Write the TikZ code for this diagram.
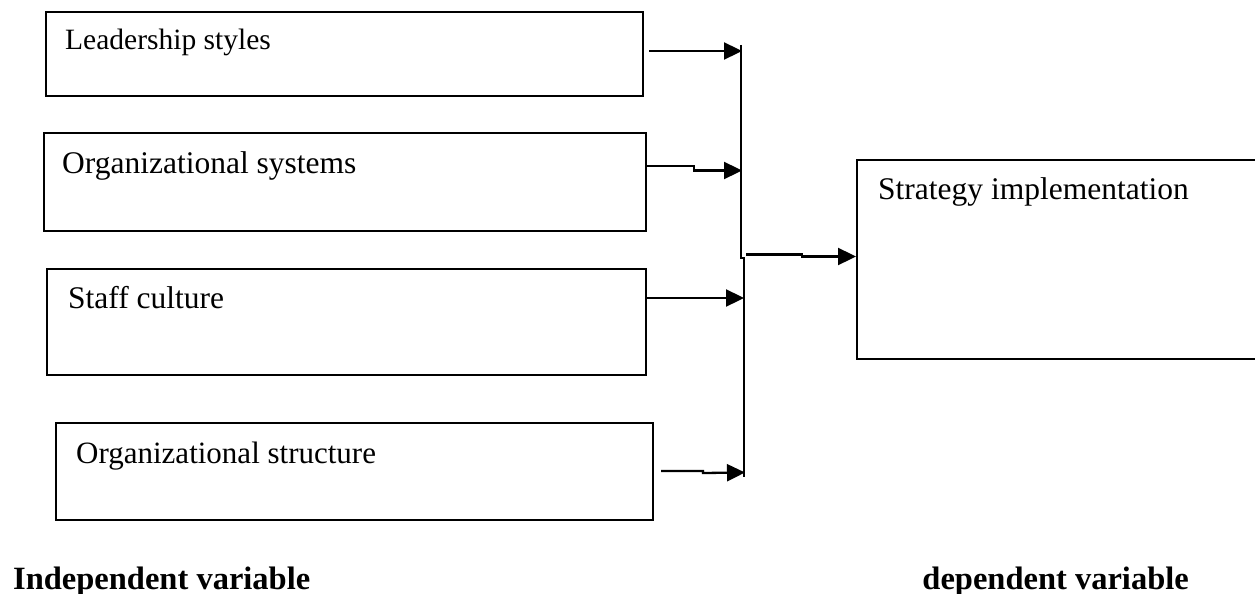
\documentclass[tikz,border=0pt]{standalone}
\usepackage{fontspec}
\setmainfont{Liberation Serif}
\usetikzlibrary{arrows.meta}
\tikzset{
  box/.style={draw=black, line width=2pt, rectangle, inner sep=0pt},
  txt/.style={anchor=base west, inner sep=0pt, font=\fontsize{31.5}{36}\selectfont},
  lbl/.style={inner sep=0pt, font=\fontsize{32.5}{38}\selectfont\bfseries},
  arr/.style={line width=2.3pt, -{Triangle[length=18pt,width=17pt]}},
  bus/.style={line width=2.3pt}
}
\begin{document}
\begin{tikzpicture}[x=1pt,y=-1pt]
\useasboundingbox (0,0) rectangle (1255,594);
% boxes
\node[box, minimum width=597pt, minimum height=84pt]  (b1) at (344.5,54) {};
\node[box, minimum width=602pt, minimum height=98pt]  (b2) at (345,182) {};
\node[box, minimum width=599pt, minimum height=106pt] (b3) at (346.5,321.5) {};
\node[box, minimum width=597pt, minimum height=97pt]  (b4) at (354.5,471.5) {};
\node[box, minimum width=402pt, minimum height=199pt] (st) at (1058,259.5) {};
% texts
\node[txt, font=\fontsize{29.5}{36}\selectfont] (t1) at (65,50) {Leadership styles};
\node[txt] (t2) at (62,173) {Organizational systems};
\node[txt, font=\fontsize{31.5}{36}\selectfont] (t3) at (68,308) {Staff culture};
\node[txt, font=\fontsize{31}{36}\selectfont] (t4) at (76,463) {Organizational structure};
\node[txt] (t5) at (878,199) {Strategy implementation};
\node[lbl, anchor=base west] (iv) at (13,589) {Independent variable};
\node[lbl, anchor=base east] (dv) at (1189,589) {dependent variable};
% bus
\coordinate (busTop) at (741,45);
\coordinate (jogA) at (741,258);
\coordinate (jogB) at (744,258);
\coordinate (busBot) at (744,477);
\draw[bus] (busTop) -- (jogA) -- (jogB) -- (busBot);
% arrow ends on the bus
\coordinate (e1) at (742,51);
\coordinate (e2) at (742,170.5);
\coordinate (e3) at (744,298);
\coordinate (e4) at (745,472.5);
\coordinate (s5) at (746,254.5);
% arrows
\draw[arr] ([shift={(5,-3)}]b1.east) -- (e1);
\draw[arr] ([shift={(0,-16)}]b2.east) -- ++(47,0) -- ++(0,4.5) -- (e2);
\draw[arr] ([shift={(0,-23.5)}]b3.east) -- (e3);
\draw[arr] ([shift={(7,-0.5)}]b4.east) -- ++(42,0) -- ++(0,2) -- (e4);
\draw[arr] (s5) -- ++(56,0) -- ++(0,2) -- (st.west |- 0,256.5);
\end{tikzpicture}
\end{document}
